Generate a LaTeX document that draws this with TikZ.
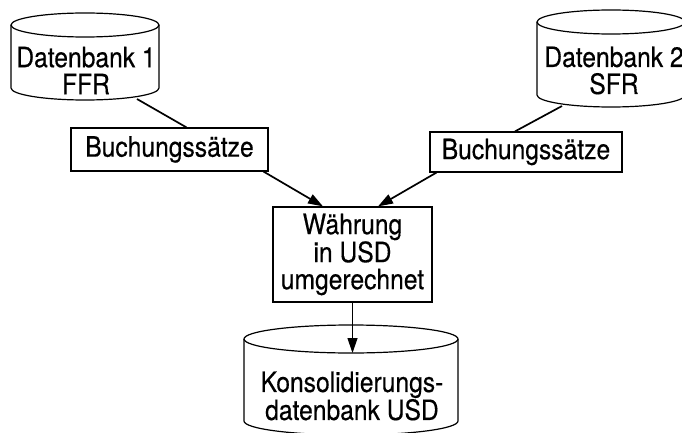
\documentclass[tikz,border=0pt]{standalone}
\usepackage{fontspec}
\setmainfont[FakeStretch=0.88,FakeBold=0.4]{TeX Gyre Heros}
\usepackage{tikz}
\usetikzlibrary{arrows.meta,calc}

\tikzset{
    zyl/.style={line width=1.2pt},
    kasten/.style={draw, line width=1.2pt, inner sep=0pt, align=center},
    zyltext/.style={inner sep=0pt, align=center},
    fluss/.style={line width=1.7pt},
    pfeil/.style={fluss, -{Triangle[length=15pt,width=10pt]}}
}

\begin{document}
\begin{tikzpicture}[x=1pt, y=1pt, font=\fontsize{28}{27}\selectfont]
        \useasboundingbox (0,-433) rectangle (682,0);
        \clip (0,-433) rectangle (682,0);
        % cylinders: number / centre x / top y / bottom y / x radius / y radius
        \foreach \n/\x/\yo/\yu/\rx/\ry in {1/85/25/88/74/12, 2/611/22/95/74/12, 3/351/339/421/107/14}
        {
            \draw [zyl] (\x-\rx,-\yo) -- (\x-\rx,-\yu)
                arc [start angle=180, end angle=360, x radius=\rx, y radius=\ry]
                -- (\x+\rx,-\yo);
            \draw [zyl] (\x,-\yo) ellipse [x radius=\rx, y radius=\ry];
        }

        \node [zyltext] (db1) at (86,-70.5) {Datenbank 1\\FFR};
        \node [zyltext] (db2) at (614,-70.5) {Datenbank 2\\SFR};
        \node [zyltext] (db3) at (352,-396) {Konsolidierungs-\\datenbank USD};
        \coordinate (db1-fuss) at (137,-99); %lower rim of db1
        \coordinate (db2-fuss) at (562,-106); %lower rim of db2
        \coordinate (db3-deckel) at (352.5,-353); %front edge of the top of db3

        \node [kasten, minimum width=197pt, minimum height=43pt] (bs1) at (169.5,-149.5) {Buchungssätze};
        \node [kasten, minimum width=192pt, minimum height=40pt] (bs2) at (526,-152) {Buchungssätze};
        \node [kasten, minimum width=159pt, minimum height=95pt] (wr) at (352.5,-254.5) {Währung\\in USD\\umgerechnet};

        \draw [fluss] (db1-fuss) -- ([xshift=17pt]bs1.north);
        \draw [fluss] (db2-fuss) -- ([xshift=-11pt]bs2.north);
        \draw [pfeil] ([xshift=-5pt]bs1.south east) -- ([xshift=-29.5pt]wr.north);
        \draw [pfeil] ([xshift=7pt]bs2.south west) -- ([xshift=25.5pt]wr.north);
        \draw [pfeil, line width=1.2pt] (wr.south) -- (db3-deckel);
    \end{tikzpicture}
\end{document}
